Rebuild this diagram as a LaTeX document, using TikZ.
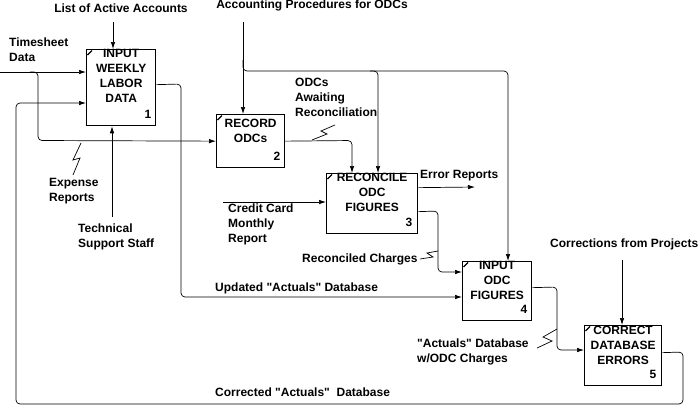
\documentclass[tikz,border=0pt]{standalone}
\usepackage{fontspec}
\setmainfont{Liberation Sans}
\usetikzlibrary{arrows.meta}
\newcommand{\sq}{\textquotedbl{}}
\begin{document}
\begin{tikzpicture}[x=1pt,y=-1pt,
  fn/.style={font=\bfseries\fontsize{12}{15}\selectfont, inner sep=0pt},
  lbl/.style={fn, align=left, anchor=north west},
  ttl/.style={fn, align=center, anchor=north},
  box/.style={draw, line width=1.3pt, anchor=north west, inner sep=0pt},
  arr/.style={-{Latex[length=7pt,width=4.5pt]}, line width=0.7pt, rounded corners=4pt},
  zig/.style={line width=0.7pt},
  cornermark/.style={line width=1.3pt}]
\useasboundingbox (0,0) rectangle (700,405);

% boxes
\node[box, minimum width=69pt, minimum height=76pt] (b1) at (86,49) {};
\node[box, minimum width=68pt, minimum height=53pt] (b2) at (216,114) {};
\node[box, minimum width=91pt, minimum height=60pt] (b3) at (326,173) {};
\node[box, minimum width=69pt, minimum height=59pt] (b4) at (462,261) {};
\node[box, minimum width=77pt, minimum height=60pt] (b5) at (584,325) {};

\foreach \b in {b1,b2,b3,b4,b5}
  \draw[cornermark] ([shift={(1.5,6)}]\b.north west) -- ++(4.5,-4.5);

% titles
\node[ttl] (t1) at ([yshift=0pt]b1.north) {INPUT\\WEEKLY\\LABOR\\DATA};
\node[ttl] (t2) at ([yshift=-4.5pt]b2.north) {RECORD\\ODCs};
\node[ttl] (t3) at ([yshift=0pt]b3.north) {RECONCILE\\ODC\\FIGURES};
\node[ttl] (t4) at ([yshift=0pt]b4.north) {INPUT\\ODC\\FIGURES};
\node[ttl] (t5) at ([yshift=-0.5pt]b5.north) {CORRECT\\DATABASE\\ERRORS};

% numbers
\node[fn] (n1) at (148,114) {1};
\node[fn] (n2) at (277,156) {2};
\node[fn] (n3) at (409,222) {3};
\node[fn] (n4) at (524,309) {4};
\node[fn] (n5) at (653,374) {5};

% free ends
\coordinate (tsIn) at (0,72);
\coordinate (tsBr) at (30,72);
\coordinate (lst) at (113,22);
\coordinate (tech) at (112,217);
\coordinate (acc) at (243,22);
\coordinate (accBr) at (370,71);
\coordinate (cc) at (223,202);
\coordinate (err) at (475,187);
\coordinate (corr) at (622,260);

% Timesheet data
\draw[arr] (tsIn) -- (tsIn -| b1.west);
\draw[arr] (tsBr) -- (38,72) -- (38,140.5) -- (b2.west);
% feedback
\draw[arr] ([yshift=3pt]b5.east) -- (683,352) -- (683,404) -- (16,404) -- (16,103) -- (b1.west |- 0,103);
% controls / mechanisms box 1
\draw[arr] (lst) -- (lst |- b1.north);
\draw[arr] (tech) -- (tech |- b1.south);
% box1 output
\draw[arr] ([yshift=3pt]b1.east) -- (181,84) -- (181,297) -- (b4.west |- 0,297);
% accounting procedures
\draw[arr] (acc) -- (acc |- b2.north);
\draw[arr] (243,60) -- (243,71) -- (508,71) -- ([xshift=46pt]b4.north west);
\draw[arr] (accBr) -- (378,71) -- ([xshift=52pt]b3.north west);
% box2 output
\draw[arr] (b2.east) -- (352,140.5) -- ([xshift=26pt]b3.north west);
% credit card
\draw[arr] (cc) -- (cc -| b3.west);
% error reports
\draw[arr] ([yshift=16pt]b3.east) -- (err);
% reconciled charges
\draw[arr] ([yshift=-8pt]b3.east) -- (438,211) -- (438,272) -- (b4.west |- 0,272);
% box4 output
\draw[arr] ([yshift=3.5pt]b4.east) -- (557,287) -- (557,350) -- (b5.west |- 0,350);
% corrections
\draw[arr] (corr) -- (corr |- b5.north);

% squiggles
\draw[zig] (81,143) -- (73,160) -- (80,158) -- (73,175);
\draw[zig] (312,140) -- (327,134) -- (321,131) -- (335,125);
\draw[zig] (420,259) -- (433,257) -- (427,253) -- (438,251);
\draw[zig] (537,348) -- (552,341) -- (543,337) -- (557,329);

% labels
\node[fn] (lList) at (121,8) {List of Active Accounts};
\node[fn] (lAcc) at (312,5) {Accounting Procedures for ODCs};
\node[lbl] (lTs) at (9,37.7) {Timesheet\\Data};
\node[lbl] (lExp) at (49,177.7) {Expense\\Reports};
\node[lbl] (lTech) at (78,223.7) {Technical\\Support Staff};
\node[lbl] (lOdc) at (295,77.7) {ODCs\\Awaiting\\Reconciliation};
\node[lbl] (lCc) at (228,203.7) {Credit Card\\Monthly\\Report};
\node[lbl] (lErr) at (420,169.7) {Error Reports};
\node[lbl] (lRec) at (302,253.7) {Reconciled Charges};
\node[lbl] (lUpd) at (215,282.7) {Updated \sq Actuals\sq\ Database};
\node[lbl] (lAct) at (417,338.7) {\sq Actuals\sq\ Database\\w/ODC Charges};
\node[lbl] (lCor) at (215,387.7) {Corrected \sq Actuals\sq\ \ Database};
\node[lbl] (lCorr) at (550,238.7) {Corrections from Projects};
\end{tikzpicture}
\end{document}
